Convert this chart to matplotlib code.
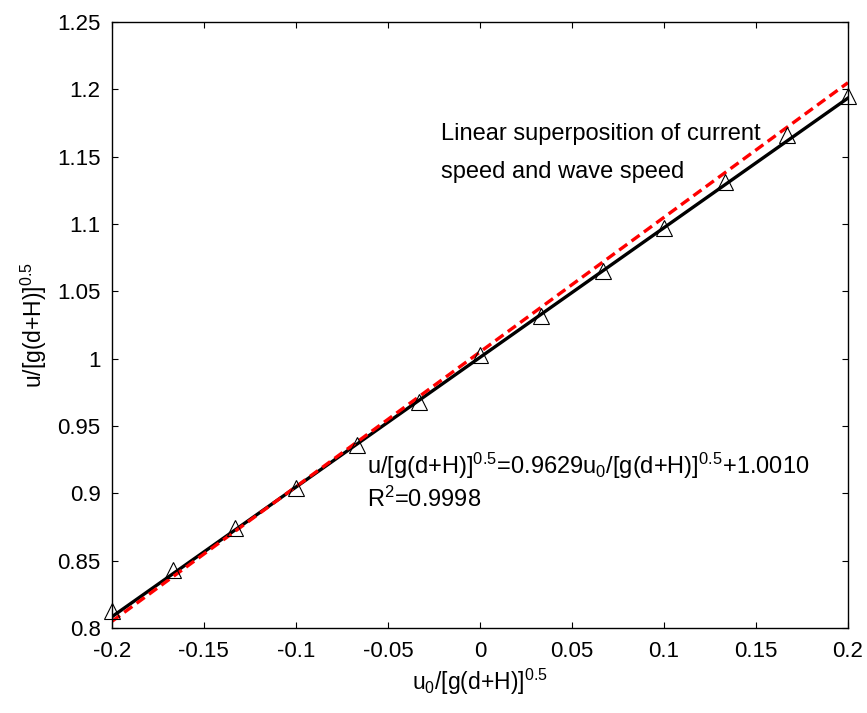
import numpy as np
import matplotlib.pyplot as plt

plt.rcParams['font.family'] = ['Liberation Sans', 'DejaVu Sans']
plt.rcParams['mathtext.fontset'] = 'custom'
plt.rcParams['mathtext.rm'] = 'Liberation Sans'
plt.rcParams['mathtext.it'] = 'Liberation Sans'

# measured points
x_data = [-0.2, -0.1667, -0.1333, -0.1, -0.0667, -0.0333, 0.0,
          0.0333, 0.0667, 0.1, 0.1333, 0.1667, 0.2]
y_data = [0.813, 0.843, 0.874, 0.904, 0.936, 0.968, 1.003,
          1.032, 1.065, 1.097, 1.131, 1.166, 1.195]

# fit and superposition lines
fit_slope, fit_icpt = 0.9629, 1.0010
sup_slope, sup_icpt = 1.0, 1.005
x_line = np.array([-0.2, 0.2])

fig = plt.figure(figsize=(8.67, 7.13), dpi=100)
ax = fig.add_axes([0.129, 0.119, 0.849, 0.850])

ax.plot(x_line, fit_slope * x_line + fit_icpt, color='black', lw=2.4)
ax.plot(x_line, sup_slope * x_line + sup_icpt, color='red', lw=2.4,
        ls=(0, (3, 1.6)))
ax.plot(x_data, y_data, ls='none', marker='^', ms=12, mfc='none',
        mec='black', mew=0.8, clip_on=False)

ax.set_xlim(-0.2, 0.2)
ax.set_ylim(0.8, 1.25)
ax.set_xticks(np.arange(-0.2, 0.201, 0.05))
ax.set_xticklabels(['-0.2', '-0.15', '-0.1', '-0.05', '0', '0.05', '0.1', '0.15', '0.2'])
ax.set_yticks(np.arange(0.8, 1.251, 0.05))
ax.set_yticklabels(['0.8', '0.85', '0.9', '0.95', '1', '1.05', '1.1', '1.15', '1.2', '1.25'])
ax.tick_params(direction='in', top=True, right=True, labelsize=16, length=4, width=0.8)
ax.tick_params(axis='x', pad=9)
ax.tick_params(axis='y', pad=8)
for s in ax.spines.values():
    s.set_linewidth(1.0)

ax.set_xlabel(r'u$_0$/[g(d+H)]$^{0.5}$', fontsize=16.5, labelpad=4)
ax.set_ylabel(r'u/[g(d+H)]$^{0.5}$', fontsize=16.5, labelpad=6)

ax.text(-0.0212, 1.1624, 'Linear superposition of current', fontsize=17, va='baseline')
ax.text(-0.0212, 1.1342, 'speed and wave speed', fontsize=17, va='baseline')
ax.text(-0.0614, 0.9144,
        r'u/[g(d+H)]$^{0.5}$=0.9629u$_0$/[g(d+H)]$^{0.5}$+1.0010',
        fontsize=17, va='baseline')
ax.text(-0.0614, 0.8899, r'R$^2$=0.9998', fontsize=17, va='baseline')

fig.savefig('out.png', dpi=100)
